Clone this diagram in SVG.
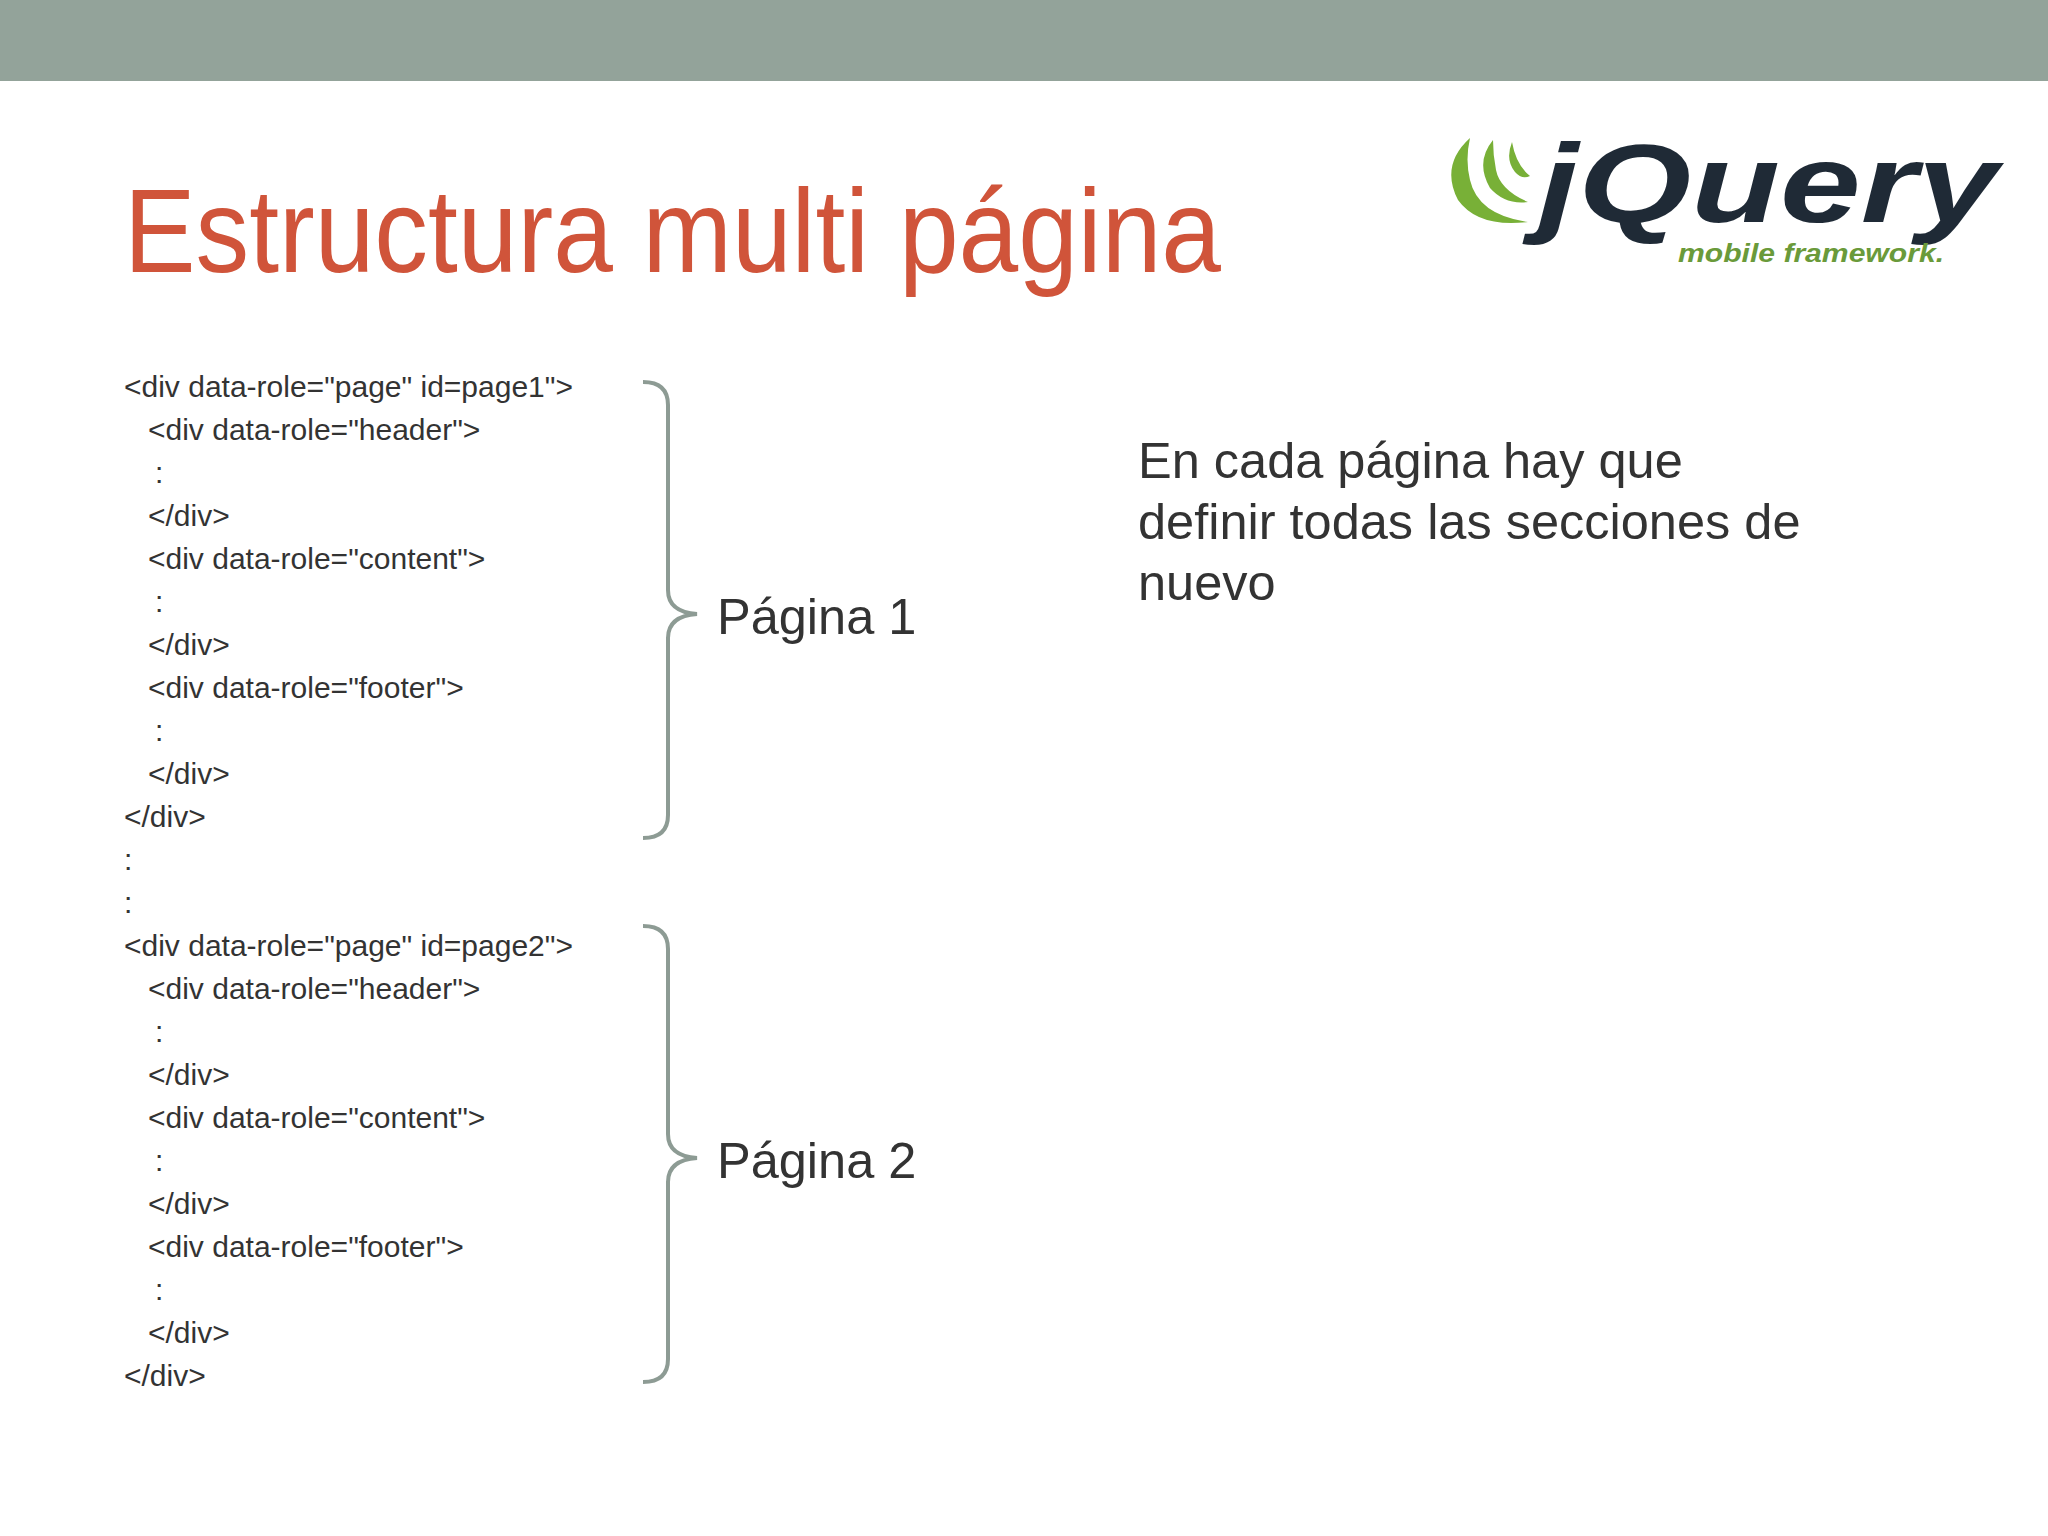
<svg xmlns="http://www.w3.org/2000/svg" width="2048" height="1536" viewBox="0 0 2048 1536">
<style>
.code{font-family:"Liberation Sans",Arial,sans-serif;font-size:30px;fill:#333}
.big{font-family:"Liberation Sans",Arial,sans-serif;font-size:50.5px;fill:#333}
.brace{fill:none;stroke:#8d9b94;stroke-width:4}
</style>
<rect width="2048" height="1536" fill="#fff"/>
<rect width="2048" height="81" fill="#93a39a"/>
<text x="124" y="272" font-family="Liberation Sans,Arial,sans-serif" font-size="118" fill="#d0543a" textLength="1097" lengthAdjust="spacingAndGlyphs">Estructura multi página</text>
<g id="logo">
<path d="M1470 138 Q1440 165 1458 200 Q1478 228 1528 222 Q1478 215 1470 180 Q1465 160 1470 138Z" fill="#78b037"/>
<path d="M1493 140 Q1475 162 1490 188 Q1505 205 1528 202 Q1500 190 1496 170 Q1493 155 1493 140Z" fill="#78b037"/>
<path d="M1512 142 Q1505 160 1515 172 Q1522 180 1530 176 Q1516 165 1512 142Z" fill="#78b037"/>
<text x="1538" y="222" font-family="Liberation Sans,Arial,sans-serif" font-weight="bold" font-style="italic" font-size="112" fill="#1f2a36" textLength="460" lengthAdjust="spacingAndGlyphs">jQuery</text>
<text x="1678" y="262" font-family="Liberation Sans,Arial,sans-serif" font-weight="bold" font-style="italic" font-size="26" fill="#6a9a3a" textLength="266" lengthAdjust="spacingAndGlyphs">mobile framework.</text>
</g>
<g id="code">
<text class="code" x="124" y="397">&lt;div data-role="page" id=page1"&gt;</text>
<text class="code" x="148" y="440">&lt;div data-role="header"&gt;</text>
<text class="code" x="155" y="483">:</text>
<text class="code" x="148" y="526">&lt;/div&gt;</text>
<text class="code" x="148" y="569">&lt;div data-role="content"&gt;</text>
<text class="code" x="155" y="612">:</text>
<text class="code" x="148" y="655">&lt;/div&gt;</text>
<text class="code" x="148" y="698">&lt;div data-role="footer"&gt;</text>
<text class="code" x="155" y="741">:</text>
<text class="code" x="148" y="784">&lt;/div&gt;</text>
<text class="code" x="124" y="827">&lt;/div&gt;</text>
<text class="code" x="124" y="870">:</text>
<text class="code" x="124" y="913">:</text>
<text class="code" x="124" y="956">&lt;div data-role="page" id=page2"&gt;</text>
<text class="code" x="148" y="999">&lt;div data-role="header"&gt;</text>
<text class="code" x="155" y="1042">:</text>
<text class="code" x="148" y="1085">&lt;/div&gt;</text>
<text class="code" x="148" y="1128">&lt;div data-role="content"&gt;</text>
<text class="code" x="155" y="1171">:</text>
<text class="code" x="148" y="1214">&lt;/div&gt;</text>
<text class="code" x="148" y="1257">&lt;div data-role="footer"&gt;</text>
<text class="code" x="155" y="1300">:</text>
<text class="code" x="148" y="1343">&lt;/div&gt;</text>
<text class="code" x="124" y="1386">&lt;/div&gt;</text>
</g>
<g id="connectors">
<path class="brace" d="M643 382 Q668 382 668 405 L668 590 Q668 612 697 614 Q668 616 668 638 L668 815 Q668 838 643 838"/>
<path class="brace" d="M643 926 Q668 926 668 949 L668 1134 Q668 1156 697 1158 Q668 1160 668 1182 L668 1359 Q668 1382 643 1382"/>
</g>
<g id="pagina1"><text class="big" x="717" y="634">Página 1</text></g>
<g id="pagina2"><text class="big" x="717" y="1178">Página 2</text></g>
<g id="note">
<text class="big" x="1138" y="478">En cada página hay que</text>
<text class="big" x="1138" y="539">definir todas las secciones de</text>
<text class="big" x="1138" y="600">nuevo</text>
</g>
</svg>
